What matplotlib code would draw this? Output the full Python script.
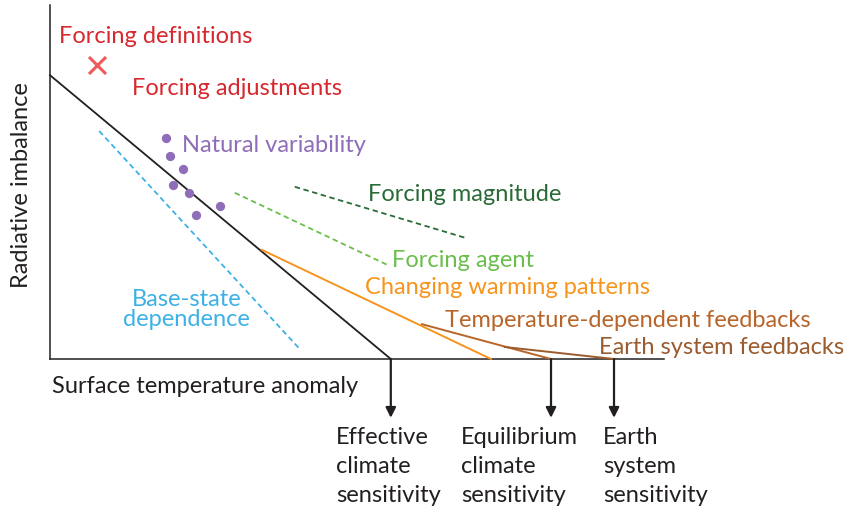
import matplotlib.pyplot as plt

# schematic units: x = surface temperature anomaly, y = radiative imbalance
forcing = 4.73
ecs_eff = 5.68
ecs = 8.35
ess = 9.4

black_x = [0, ecs_eff]
black_y = [forcing, 0]
orange_x = [3.53, 7.35]
orange_y = [1.82, 0]
tempdep_x = [6.2, ecs]
tempdep_y = [0.58, 0]
earth_x = [7.58, ess]
earth_y = [0.2, 0]

cross_x, cross_y = 0.78, 4.9
dots_x = [1.93, 2.0, 2.22, 2.05, 2.32, 2.43, 2.83]
dots_y = [3.68, 3.38, 3.17, 2.9, 2.77, 2.4, 2.55]

base_x = [0.82, 4.15]
base_y = [3.8, 0.18]
agent_x = [3.08, 5.62]
agent_y = [2.77, 1.57]
magn_x = [4.08, 6.92]
magn_y = [2.87, 2.02]

arrow_x = [ecs_eff, ecs, ess]
arrow_labels = ["Effective\nclimate\nsensitivity",
                "Equilibrium\nclimate\nsensitivity",
                "Earth\nsystem\nsensitivity"]
label_left = [4.77, 6.85, 9.22]

plt.rcParams['font.family'] = ['Lato', 'DejaVu Sans']
fs = 17
txt = '#231f20'

fig = plt.figure(figsize=(8.47, 5.11), dpi=100)
ax = fig.add_axes([0, 0, 1, 1])
ax.set_xlim(-0.833, 13.283)
ax.set_ylim(-2.533, 5.983)
ax.axis('off')

# axes lines
ax.plot([0, 0], [0, 5.9], color=txt, lw=1.1)
ax.plot([0, 10.23], [0, 0], color=txt, lw=1.1)

ax.plot(base_x, base_y, color='#3db1e5', lw=1.3, ls=(0, (3, 2)))
ax.plot(agent_x, agent_y, color='#6abf4b', lw=1.3, ls=(0, (3, 2)))
ax.plot(magn_x, magn_y, color='#2a6b38', lw=1.3, ls=(0, (3, 2)))

ax.plot(black_x, black_y, color=txt, lw=1.3)
ax.plot(orange_x, orange_y, color='#f7941d', lw=1.4)
ax.plot(tempdep_x, tempdep_y, color='#b8652a', lw=1.4)
ax.plot(earth_x, earth_y, color='#9a5b2e', lw=1.4)

ax.scatter(dots_x, dots_y, s=32, color='#8f6db8', zorder=3)
ax.scatter([cross_x], [cross_y], marker='x', s=150, color='#ee5a5a', linewidths=2.2)

for xa, lab, xl in zip(arrow_x, arrow_labels, label_left):
    ax.annotate('', xy=(xa, -0.98), xytext=(xa, 0),
                arrowprops=dict(arrowstyle='-|>,head_length=0.6,head_width=0.3',
                                color=txt, lw=1.6, shrinkA=0, shrinkB=0))
    ax.text(xl, -1.13, lab, ha='left', va='top', fontsize=fs, color=txt,
            linespacing=1.48)

ax.text(0.15, 5.37, "Forcing definitions", fontsize=fs, color='#d7282f', va='center')
ax.text(1.37, 4.51, "Forcing adjustments", fontsize=fs, color='#d7282f', va='center')
ax.text(2.2, 3.56, "Natural variability", fontsize=fs, color='#8f6db8', va='center')
ax.text(5.3, 2.74, "Forcing magnitude", fontsize=fs, color='#2a6b38', va='center')
ax.text(5.7, 1.65, "Forcing agent", fontsize=fs, color='#6abf4b', va='center')
ax.text(5.25, 1.19, "Changing warming patterns", fontsize=fs, color='#f7941d', va='center')
ax.text(6.58, 0.64, "Temperature-dependent feedbacks", fontsize=fs, color='#b8652a', va='center')
ax.text(9.15, 0.19, "Earth system feedbacks", fontsize=fs, color='#9a5b2e', va='center')
ax.text(2.28, 0.82, "Base-state\ndependence", fontsize=fs, color='#3db1e5',
        ha='center', va='center', linespacing=0.95)
ax.text(-0.47, 2.9, "Radiative imbalance", fontsize=fs, color=txt, rotation=90,
        ha='center', va='center')
ax.text(0.03, -0.46, "Surface temperature anomaly", fontsize=fs, color=txt, va='center')

fig.savefig('out.png', dpi=100)
